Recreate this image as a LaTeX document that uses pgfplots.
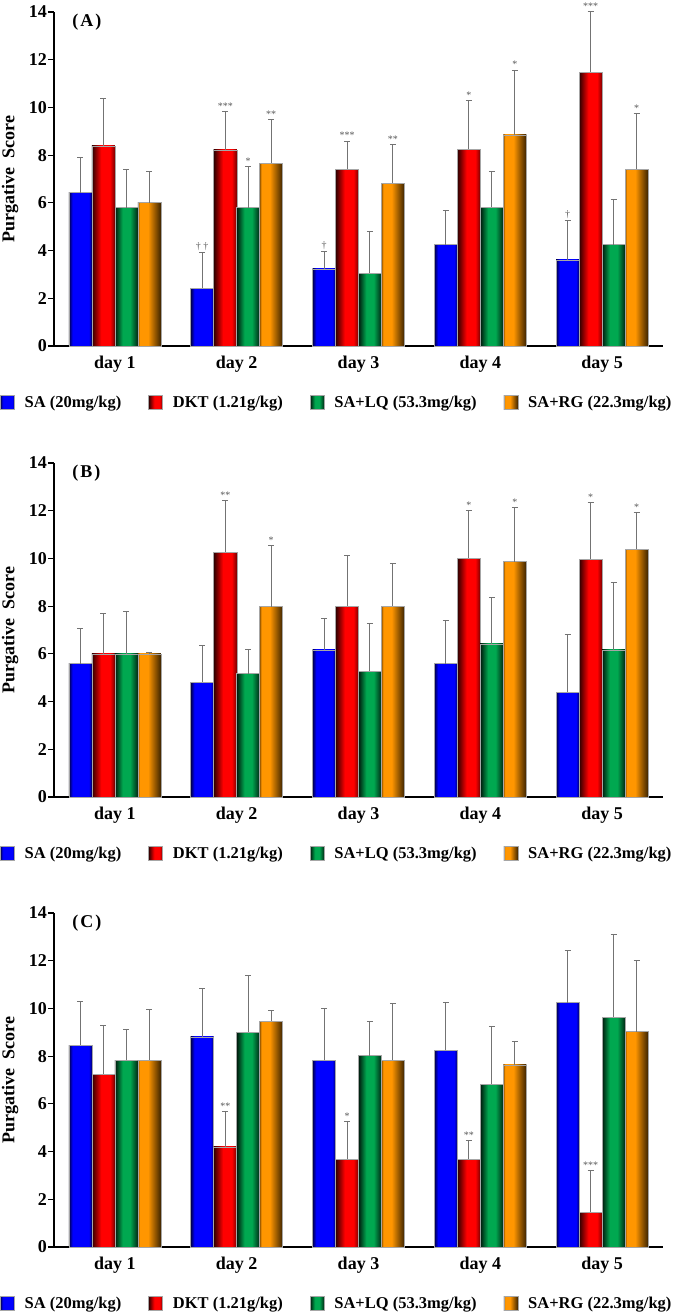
\documentclass[border=0pt]{standalone}
\usepackage{fontspec}
\setmainfont{Liberation Serif}
\usepackage{pgfplots}
\usepackage{pgfplotstable}
\pgfplotsset{compat=1.18}

% bar colours: dark edge left, bright core, dark edge right
\definecolor{saL}{RGB}{0,0,70}
\definecolor{saC}{RGB}{0,0,255}
\definecolor{saR}{RGB}{0,0,110}
\definecolor{dkL}{RGB}{45,0,0}
\definecolor{dkC}{RGB}{255,0,0}
\definecolor{dkR}{RGB}{120,0,0}
\definecolor{lqL}{RGB}{0,25,12}
\definecolor{lqC}{RGB}{0,168,80}
\definecolor{lqR}{RGB}{0,40,20}
\definecolor{rgL}{RGB}{140,80,0}
\definecolor{rgC}{RGB}{255,150,0}
\definecolor{rgR}{RGB}{60,35,0}

\pgfdeclarehorizontalshading{shSA}{100bp}{color(0bp)=(saL); color(25bp)=(saL); color(33bp)=(saC); color(68bp)=(saC); color(75bp)=(saR); color(100bp)=(saR)}
\pgfdeclarehorizontalshading{shDK}{100bp}{color(0bp)=(dkL); color(25bp)=(dkL); color(45bp)=(dkC); color(64bp)=(dkC); color(75bp)=(dkR); color(100bp)=(dkR)}
\pgfdeclarehorizontalshading{shLQ}{100bp}{color(0bp)=(lqL); color(25bp)=(lqL); color(42bp)=(lqC); color(58bp)=(lqC); color(75bp)=(lqR); color(100bp)=(lqR)}
\pgfdeclarehorizontalshading{shRG}{100bp}{color(0bp)=(rgL); color(25bp)=(rgL); color(29bp)=(rgC); color(47bp)=(rgC); color(75bp)=(rgR); color(100bp)=(rgR)}

% x = day index, value and SD for each group
\pgfplotstableread{
x sa sae dkt dkte lq lqe rg rge
0 6.43 1.47 8.39 2.00 5.80 1.58 6.01 1.29
1 2.42 1.50 8.22 1.60 5.80 1.72 7.65 1.85
2 3.23 0.71 7.40 1.19 3.04 1.77 6.82 1.61
3 4.25 1.43 8.24 2.04 5.82 1.48 8.85 2.71
4 3.61 1.65 11.48 2.52 4.25 1.89 7.40 2.35
}\dataA
\pgfplotstableread{
x sa sae dkt dkte lq lqe rg rge
0 5.59 1.49 6.00 1.68 6.00 1.77 6.00 0.06
1 4.81 1.54 10.25 2.16 5.17 1.01 7.98 2.55
2 6.17 1.32 8.00 2.14 5.27 1.99 8.00 1.79
3 5.59 1.82 10.00 1.99 6.42 1.94 9.87 2.25
4 4.40 2.41 9.97 2.37 6.17 2.80 10.39 1.52
}\dataB
\pgfplotstableread{
x sa sae dkt dkte lq lqe rg rge
0 8.46 1.83 7.24 2.03 7.82 1.30 7.82 2.12
1 8.81 2.04 4.20 1.48 9.01 2.38 9.47 0.45
2 7.82 2.17 3.68 1.58 8.02 1.44 7.82 2.40
3 8.24 2.02 3.68 0.78 6.82 2.41 7.63 1.00
4 10.24 2.19 1.46 1.73 9.64 3.44 9.03 2.98
}\dataC

\pgfplotsset{
  panel/.style={
    scale only axis, width=609bp, height=334bp,
    xmin=-0.5, xmax=4.5, ymin=0, ymax=14,
    axis lines*=left, axis line style={line width=1.6bp, black},
    xtick={0,...,4}, xticklabels={day 1,day 2,day 3,day 4,day 5},
    ytick={0,2,...,14},
    tick align=outside, major tick length=6bp,
    x tick style={draw=none},
    y tick style={line width=1.2bp, black},
    /pgf/number format/assume math mode=true,
    ticklabel style={font=\bfseries\fontsize{18bp}{18bp}\selectfont},
    yticklabel style={inner sep=0bp, xshift=-1bp},
    xticklabel style={inner sep=0bp, yshift=-4bp},
    ylabel={Purgative\ \ Score},
    ylabel style={font=\bfseries\fontsize{18bp}{18bp}\selectfont,
      at={(axis description cs:-0.072,0.5)}, anchor=center},
    legend columns=4, legend cell align=left,
    legend style={at={(axis description cs:-0.0887,-0.168)}, anchor=west,
      draw=none, fill=none, inner sep=0bp, column sep=0bp,
      font=\bfseries\fontsize{16.5bp}{18bp}\selectfont, nodes={inner sep=0bp},
      /tikz/every even column/.append style={column sep=27bp}},
    clip=false,
    nodes near coords style={font=\fontsize{10bp}{10bp}\selectfont,
      text=black!65, anchor=south, inner sep=0bp, yshift=2bp},
  },
  barbase/.style={ybar, bar width=0.189, draw=black!35, line width=0.5bp, shade,
    legend image code/.code={\path[##1] (0bp,-7bp) rectangle (14bp,7bp); \path (24bp,0bp);}},
  bSA/.style={barbase, bar shift=-0.283, shading=shSA},
  bDK/.style={barbase, bar shift=-0.094, shading=shDK},
  bLQ/.style={barbase, bar shift=0.094, shading=shLQ},
  bRG/.style={barbase, bar shift=0.283, shading=shRG},
  ebar/.style={draw=none, mark=none, forget plot,
    error bars/.cd, y dir=plus, y explicit,
    error bar style={draw=black!55, line width=1bp},
    error mark options={rotate=90, draw=black!55, line width=1bp, mark size=3bp}},
  stars/.style={draw=none, mark=none, forget plot, nodes near coords,
    point meta=explicit symbolic},
}

% one plot per bar, so that each bar gets its own shading
\newcommand\panelbars[1]{%
  \pgfplotsinvokeforeach{0,...,4}{%
    \addplot[bSA, forget plot, x filter/.expression={abs(x-##1)<0.1 ? x : nan}] table[x=x, y=sa] {#1};
    \addplot[bDK, forget plot, x filter/.expression={abs(x-##1)<0.1 ? x : nan}] table[x=x, y=dkt] {#1};
    \addplot[bLQ, forget plot, x filter/.expression={abs(x-##1)<0.1 ? x : nan}] table[x=x, y=lq] {#1};
    \addplot[bRG, forget plot, x filter/.expression={abs(x-##1)<0.1 ? x : nan}] table[x=x, y=rg] {#1};
  }
  \addplot[ebar] table[x expr=\thisrow{x}-0.283, y=sa, y error=sae] {#1};
  \addplot[ebar] table[x expr=\thisrow{x}-0.094, y=dkt, y error=dkte] {#1};
  \addplot[ebar] table[x expr=\thisrow{x}+0.094, y=lq, y error=lqe] {#1};
  \addplot[ebar] table[x expr=\thisrow{x}+0.283, y=rg, y error=rge] {#1};
  \addlegendimage{bSA}\addlegendentry{SA (20mg/kg)}
  \addlegendimage{bDK}\addlegendentry{DKT (1.21g/kg)}
  \addlegendimage{bLQ}\addlegendentry{SA+LQ (53.3mg/kg)}
  \addlegendimage{bRG}\addlegendentry{SA+RG (22.3mg/kg)}
}

\begin{document}
\begin{tikzpicture}
\useasboundingbox (0,0) rectangle (685bp,1315bp);

% (A)
\begin{axis}[panel, at={(54bp,969bp)}, anchor=south west]
\panelbars{\dataA}
\addplot[stars] coordinates {
  (0.717,3.92) [† †] (1.717,3.94) [†] (3.717,5.26) [†]
  (0.906,9.82) [***] (1.906,8.59) [***] (2.906,10.28) [*] (3.906,14.0) [***]
  (1.094,7.52) [*]
  (1.283,9.50) [**] (2.283,8.43) [**] (3.283,11.56) [*] (4.283,9.75) [*]
};
\node[anchor=north west, inner sep=0bp, font=\bfseries\fontsize{18bp}{18bp}\selectfont]
  at (rel axis cs:0.03,0.995) {(\hspace{2bp}A\hspace{2bp})};
\end{axis}

% (B)
\begin{axis}[panel, at={(54bp,518bp)}, anchor=south west]
\panelbars{\dataB}
\addplot[stars] coordinates {
  (0.906,12.41) [**] (2.906,11.99) [*] (3.906,12.34) [*]
  (1.283,10.53) [*] (3.283,12.12) [*] (4.283,11.91) [*]
};
\node[anchor=north west, inner sep=0bp, font=\bfseries\fontsize{18bp}{18bp}\selectfont]
  at (rel axis cs:0.03,0.995) {(\hspace{2bp}B\hspace{2bp})};
\end{axis}

% (C)
\begin{axis}[panel, at={(54bp,68bp)}, anchor=south west]
\panelbars{\dataC}
\addplot[stars] coordinates {
  (0.906,5.68) [**] (1.906,5.26) [*] (2.906,4.46) [**] (3.906,3.19) [***]
};
\node[anchor=north west, inner sep=0bp, font=\bfseries\fontsize{18bp}{18bp}\selectfont]
  at (rel axis cs:0.03,0.995) {(\hspace{2bp}C\hspace{2bp})};
\end{axis}
\end{tikzpicture}
\end{document}
